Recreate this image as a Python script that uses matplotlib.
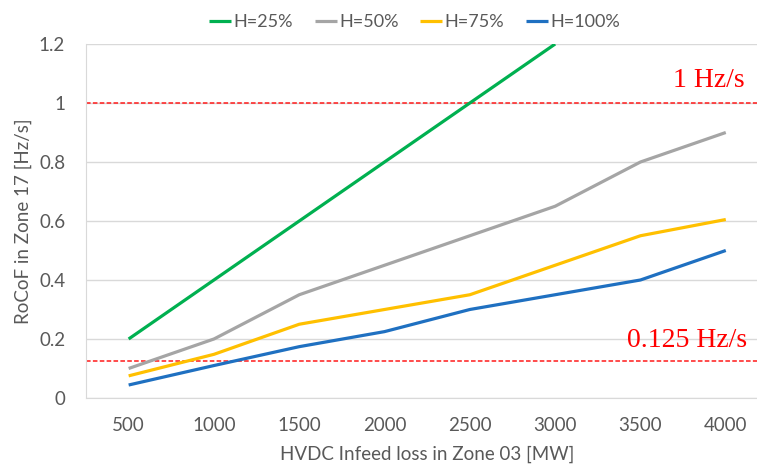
import numpy as np
import matplotlib.pyplot as plt
from matplotlib.transforms import blended_transform_factory

loss_mw = ['500', '1000', '1500', '2000', '2500', '3000', '3500', '4000']
h25 = [0.2, 0.4, 0.6, 0.8, 1.0, 1.2, np.nan, np.nan]
h50 = [0.1, 0.2, 0.35, 0.45, 0.55, 0.65, 0.8, 0.9]
h75 = [0.075, 0.148, 0.25, 0.3, 0.35, 0.45, 0.55, 0.605]
h100 = [0.044, 0.11, 0.174, 0.225, 0.3, 0.35, 0.4, 0.5]
limits = [1.0, 0.125]
limit_labels = ['1 Hz/s', '0.125 Hz/s']

plt.rcParams['font.family'] = ['Lato', 'DejaVu Sans']
txt = '#595959'

fig = plt.figure(figsize=(7.57, 4.68), dpi=100)
ax = fig.add_axes([0.1136, 0.1496, 0.9015, 0.7564])

x = np.arange(len(loss_mw))
series = [(h25, '#00b050', 'H=25%'), (h50, '#a5a5a5', 'H=50%'),
          (h75, '#ffc000', 'H=75%'), (h100, '#1f70c1', 'H=100%')]
for vals, c, lab in series:
    ax.plot(x, vals, color=c, lw=2.3, label=lab, solid_capstyle='butt', zorder=3)

for v in limits:
    ax.axhline(v, color='#ff1a1a', lw=1.1, ls=(0, (3, 1.5)), zorder=2)

# limit labels: x in figure fraction, y in data units
trans = blended_transform_factory(fig.transFigure, ax.transData)
ax.text(0.984, 1.054, limit_labels[0], color='#ff0000', fontsize=20,
        family='Liberation Serif', ha='right', va='baseline', transform=trans)
ax.text(0.987, 0.173, limit_labels[1], color='#ff0000', fontsize=20,
        family='Liberation Serif', ha='right', va='baseline', transform=trans)

ax.set_xlim(-0.5, 7.5)
ax.set_ylim(0, 1.2)
ax.set_xticks(x)
ax.set_xticklabels(loss_mw)
ax.set_yticks([0, 0.2, 0.4, 0.6, 0.8, 1.0, 1.2])
ax.set_yticklabels(['0', '0.2', '0.4', '0.6', '0.8', '1', '1.2'])
ax.tick_params(length=0, labelsize=13.5, colors=txt)
ax.tick_params(axis='x', pad=14)
ax.tick_params(axis='y', pad=15)
ax.grid(axis='y', color='#d9d9d9', lw=1)
ax.set_axisbelow(True)
for s in ['top', 'right']:
    ax.spines[s].set_visible(False)
for s in ['left', 'bottom']:
    ax.spines[s].set_color('#d9d9d9')

ax.set_xlabel('HVDC Infeed loss in Zone 03 [MW]', fontsize=13.5, color=txt, labelpad=8)
ax.set_ylabel('RoCoF in Zone 17 [Hz/s]', fontsize=13.5, color=txt, labelpad=5)

fig.legend(loc='center', bbox_to_anchor=(0.548, 0.953), ncol=4, frameon=False,
           fontsize=13, handlelength=1.2, handletextpad=0.15, columnspacing=1.2,
           labelcolor=txt)

fig.savefig('out.png', dpi=100)
